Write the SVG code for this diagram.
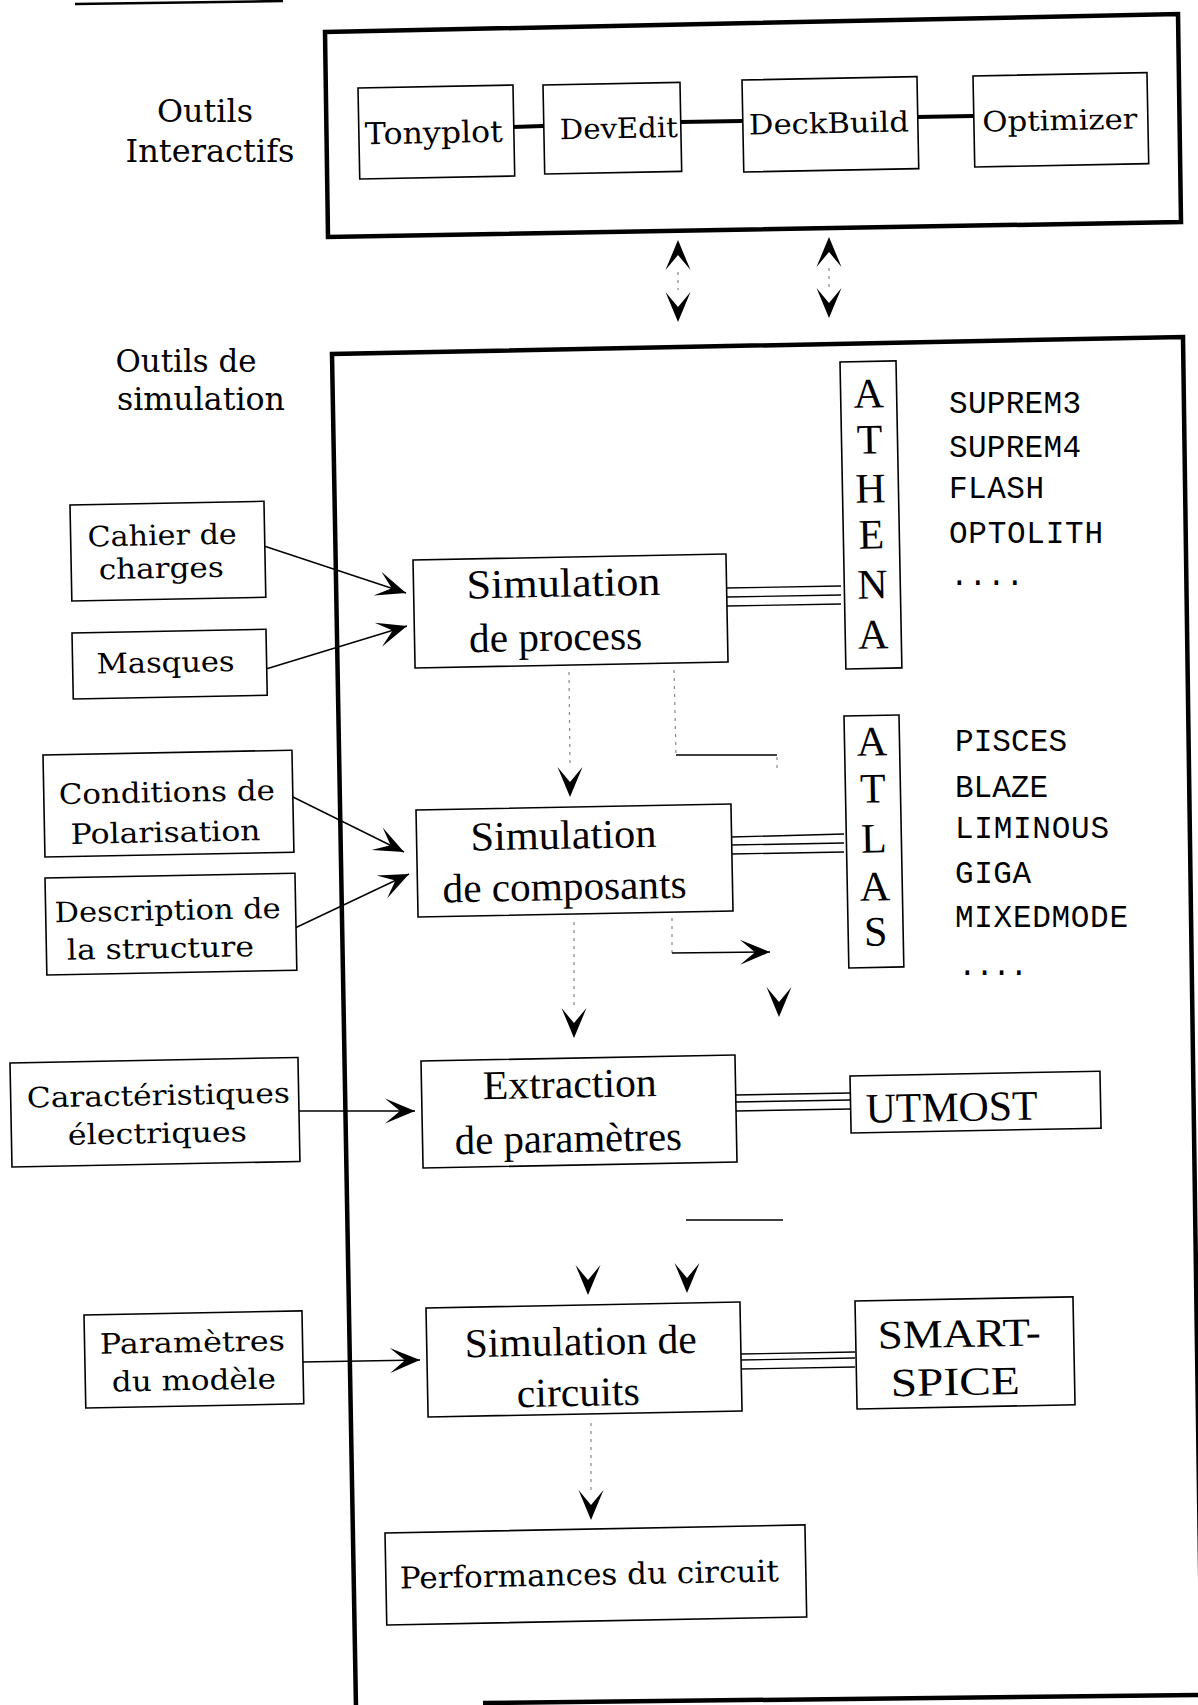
<svg xmlns="http://www.w3.org/2000/svg" xmlns:xlink="http://www.w3.org/1999/xlink" width="1198" height="1705" viewBox="0 0 1198 1705">
<defs>
<style>
.box{fill:#fff;stroke:#000;stroke-width:1.6}
.lbl{font-family:"DejaVu Serif","Liberation Serif",serif;font-size:28px;fill:#000;text-anchor:middle}
.sec{font-family:"DejaVu Serif","Liberation Serif",serif;font-size:32px;fill:#000;text-anchor:middle}
.big{font-family:"Liberation Serif","Times New Roman",serif;font-size:41px;fill:#000;text-anchor:middle}
.let{font-family:"Liberation Serif","Times New Roman",serif;font-size:42px;fill:#000;text-anchor:middle}
.mono{font-family:"Liberation Mono","Courier New",monospace;font-size:31px;fill:#000}
.frame{fill:none;stroke:#000;stroke-width:4.5;stroke-linejoin:miter}
.conn{fill:none;stroke:#000;stroke-width:1.4}
.thick{fill:none;stroke:#000;stroke-width:4}
.dot{fill:none;stroke:#888;stroke-width:1.2;stroke-dasharray:3 5}
.head{fill:#000}
</style>
<path id="ah" class="head" d="M0,0 L-30,-12.5 L-15,0 L-30,12.5 Z"/>
<marker id="arr" markerUnits="userSpaceOnUse" markerWidth="34" markerHeight="30" viewBox="-32 -15 34 30" refX="0" refY="0" orient="auto">
<path class="head" d="M0,0 L-30,-12.5 L-15,0 L-30,12.5 Z"/>
</marker>
</defs>
<rect width="1198" height="1705" fill="#fff"/>

<!-- frames -->
<g id="frames">
<line x1="75" y1="4" x2="283" y2="1" stroke="#000" stroke-width="2.5"/>
<polygon id="frame-interactifs" class="frame" points="325,32 1178,14 1181,222 328,237"/>
<path id="frame-simulation" class="frame" d="M356,1708 L332,354 L1183,337 L1202,1708"/>
<line x1="483" y1="1703" x2="1198" y2="1695" stroke="#000" stroke-width="4.5"/>
</g>

<!-- section labels -->
<g id="label-interactifs">
<text class="sec" x="205" y="122" textLength="96" lengthAdjust="spacingAndGlyphs">Outils</text>
<text class="sec" x="210" y="162" textLength="169" lengthAdjust="spacingAndGlyphs">Interactifs</text>
</g>
<g id="label-simulation">
<text class="sec" x="186" y="372" textLength="141" lengthAdjust="spacingAndGlyphs">Outils de</text>
<text class="sec" x="201" y="410" textLength="168" lengthAdjust="spacingAndGlyphs">simulation</text>
</g>

<!-- connectors -->
<g id="connectors">
<line class="thick" x1="513" y1="127" x2="543" y2="126"/>
<line class="thick" x1="680" y1="122" x2="742" y2="121"/>
<line class="thick" x1="917" y1="117" x2="973" y2="116"/>

<use href="#ah" transform="translate(678,240) rotate(-90)"/>
<line class="dot" x1="678" y1="272" x2="678" y2="290"/>
<use href="#ah" transform="translate(678,322) rotate(90)"/>
<use href="#ah" transform="translate(829,237) rotate(-90)"/>
<line class="dot" x1="829" y1="268" x2="829" y2="287"/>
<use href="#ah" transform="translate(829,318) rotate(90)"/>

<line class="conn" x1="264" y1="546" x2="406" y2="593" marker-end="url(#arr)"/>
<line class="conn" x1="266" y1="669" x2="407" y2="626" marker-end="url(#arr)"/>
<line class="conn" x1="293" y1="797" x2="404" y2="852" marker-end="url(#arr)"/>
<line class="conn" x1="295" y1="928" x2="409" y2="874" marker-end="url(#arr)"/>
<line class="conn" x1="298" y1="1111" x2="415" y2="1111" marker-end="url(#arr)"/>
<line class="conn" x1="302" y1="1362" x2="420" y2="1360" marker-end="url(#arr)"/>

<line class="dot" x1="569" y1="672" x2="570" y2="767"/>
<use href="#ah" transform="translate(570,797) rotate(90)"/>
<line class="dot" x1="674" y1="670" x2="676" y2="755"/>
<line class="conn" x1="676" y1="755" x2="777" y2="755"/>
<line class="dot" x1="777" y1="757" x2="777" y2="768"/>

<line class="dot" x1="574" y1="922" x2="574" y2="1005"/>
<use href="#ah" transform="translate(574,1038) rotate(90)"/>
<line class="dot" x1="672" y1="918" x2="672" y2="953"/>
<line class="conn" x1="672" y1="953" x2="770" y2="952" marker-end="url(#arr)"/>
<use href="#ah" transform="translate(779,1017) rotate(90)"/>

<line class="conn" x1="686" y1="1220" x2="783" y2="1220"/>
<use href="#ah" transform="translate(588,1295) rotate(90)"/>
<use href="#ah" transform="translate(687,1293) rotate(90)"/>

<line class="dot" x1="591" y1="1423" x2="591" y2="1492"/>
<use href="#ah" transform="translate(591,1520) rotate(90)"/>

<g class="conn" stroke-width="1.3">
<line x1="726" y1="588" x2="841" y2="586"/>
<line x1="726" y1="597" x2="841" y2="595"/>
<line x1="726" y1="606" x2="841" y2="604"/>
<line x1="731" y1="837" x2="844" y2="834"/>
<line x1="731" y1="845" x2="844" y2="843"/>
<line x1="731" y1="854" x2="844" y2="852"/>
<line x1="735" y1="1095" x2="851" y2="1093"/>
<line x1="735" y1="1102" x2="851" y2="1100"/>
<line x1="735" y1="1111" x2="851" y2="1109"/>
<line x1="740" y1="1354" x2="855" y2="1352"/>
<line x1="740" y1="1360" x2="855" y2="1358"/>
<line x1="740" y1="1369" x2="855" y2="1367"/>
</g>
</g>

<!-- top row nodes -->
<g id="tonyplot" transform="translate(358,88) rotate(-1.1)">
<rect class="box" x="0" y="0" width="155" height="91"/>
<text class="lbl" x="75" y="56.5" style="font-size:30px" textLength="138" lengthAdjust="spacingAndGlyphs">Tonyplot</text>
</g>
<g id="devedit" transform="translate(543,85) rotate(-1.1)">
<rect class="box" x="0" y="0" width="137" height="89"/>
<text class="lbl" x="75" y="54.5" textLength="118" lengthAdjust="spacingAndGlyphs">DevEdit</text>
</g>
<g id="deckbuild" transform="translate(742,80) rotate(-1.1)">
<rect class="box" x="0" y="0" width="175" height="92"/>
<text class="lbl" x="86" y="54.7" textLength="160" lengthAdjust="spacingAndGlyphs">DeckBuild</text>
</g>
<g id="optimizer" transform="translate(973,76) rotate(-1.1)">
<rect class="box" x="0" y="0" width="174" height="91"/>
<text class="lbl" x="86" y="55.7" textLength="155" lengthAdjust="spacingAndGlyphs">Optimizer</text>
</g>

<!-- inputs -->
<g id="cahier" transform="translate(70,505) rotate(-1.1)">
<rect class="box" x="0" y="0" width="194" height="96"/>
<text class="lbl" x="91.5" y="41.8" textLength="149" lengthAdjust="spacingAndGlyphs">Cahier de</text>
<text class="lbl" x="90" y="74.7" textLength="125" lengthAdjust="spacingAndGlyphs">charges</text>
</g>
<g id="masques" transform="translate(72,633) rotate(-1.1)">
<rect class="box" x="0" y="0" width="194" height="66"/>
<text class="lbl" x="93" y="41" textLength="138" lengthAdjust="spacingAndGlyphs">Masques</text>
</g>
<g id="conditions" transform="translate(43,755) rotate(-1.1)">
<rect class="box" x="0" y="0" width="249" height="102"/>
<text class="lbl" x="123" y="49.4" textLength="216" lengthAdjust="spacingAndGlyphs">Conditions de</text>
<text class="lbl" x="121" y="89.4" textLength="190" lengthAdjust="spacingAndGlyphs">Polarisation</text>
</g>
<g id="description" transform="translate(45,878) rotate(-1.1)">
<rect class="box" x="0" y="0" width="250" height="97"/>
<text class="lbl" x="122" y="44.4" textLength="226" lengthAdjust="spacingAndGlyphs">Description de</text>
<text class="lbl" x="114" y="82.2" textLength="187" lengthAdjust="spacingAndGlyphs">la structure</text>
</g>
<g id="caracteristiques" transform="translate(10,1063) rotate(-1.1)">
<rect class="box" x="0" y="0" width="288" height="104"/>
<text class="lbl" x="147.7" y="44.9" textLength="263" lengthAdjust="spacingAndGlyphs">Caractéristiques</text>
<text class="lbl" x="146" y="82.8" textLength="179" lengthAdjust="spacingAndGlyphs">électriques</text>
</g>
<g id="parametres" transform="translate(84,1315) rotate(-1.1)">
<rect class="box" x="0" y="0" width="218" height="93"/>
<text class="lbl" x="107.8" y="39.1" textLength="185" lengthAdjust="spacingAndGlyphs">Paramètres</text>
<text class="lbl" x="108.6" y="77.1" textLength="164" lengthAdjust="spacingAndGlyphs">du modèle</text>
</g>

<!-- main chain -->
<g id="sim-process" transform="translate(413,560) rotate(-1.1)">
<rect class="box" x="0" y="0" width="313" height="108"/>
<text class="big" x="150" y="39.5" textLength="194" lengthAdjust="spacingAndGlyphs">Simulation</text>
<text class="big" x="141" y="93.3" textLength="173" lengthAdjust="spacingAndGlyphs">de process</text>
</g>
<g id="sim-composants" transform="translate(416,810) rotate(-1.1)">
<rect class="box" x="0" y="0" width="315" height="107"/>
<text class="big" x="147" y="41.5" textLength="186" lengthAdjust="spacingAndGlyphs">Simulation</text>
<text class="big" x="147" y="92.9" textLength="244" lengthAdjust="spacingAndGlyphs">de composants</text>
</g>
<g id="extraction" transform="translate(421,1061) rotate(-1.1)">
<rect class="box" x="0" y="0" width="314" height="107"/>
<text class="big" x="148.3" y="39.5" textLength="174" lengthAdjust="spacingAndGlyphs">Extraction</text>
<text class="big" x="145.8" y="93.8" textLength="227" lengthAdjust="spacingAndGlyphs">de paramètres</text>
</g>
<g id="sim-circuits" transform="translate(426,1308) rotate(-1.1)">
<rect class="box" x="0" y="0" width="314" height="109"/>
<text class="big" x="154" y="50" textLength="232" lengthAdjust="spacingAndGlyphs">Simulation de</text>
<text class="big" x="150.6" y="100.9" textLength="123" lengthAdjust="spacingAndGlyphs">circuits</text>
</g>
<g id="performances" transform="translate(385,1533) rotate(-1.1)">
<rect class="box" x="0" y="0" width="420" height="92"/>
<text class="lbl" x="203.5" y="55.9" style="font-size:30px" textLength="379" lengthAdjust="spacingAndGlyphs">Performances du circuit</text>
</g>

<!-- tools -->
<g id="athena" transform="translate(840,362) rotate(-1.1)">
<rect class="box" x="0" y="0" width="56" height="307"/>
<text class="let" x="28" y="46">A</text>
<text class="let" x="28" y="92">T</text>
<text class="let" x="28" y="141">H</text>
<text class="let" x="28" y="187">E</text>
<text class="let" x="28" y="237">N</text>
<text class="let" x="28" y="287">A</text>
</g>
<g id="athena-list">
<text class="mono" x="949" y="413" textLength="132">SUPREM3</text>
<text class="mono" x="949" y="457" textLength="132">SUPREM4</text>
<text class="mono" x="949" y="498" textLength="95">FLASH</text>
<text class="mono" x="949" y="543" textLength="154">OPTOLITH</text>
<text class="mono" x="950" y="585" textLength="74">....</text>
</g>
<g id="atlas" transform="translate(844,716) rotate(-1.1)">
<rect class="box" x="0" y="0" width="55" height="252"/>
<text class="let" x="27.5" y="40">A</text>
<text class="let" x="27.5" y="87">T</text>
<text class="let" x="27.5" y="137">L</text>
<text class="let" x="27.5" y="185">A</text>
<text class="let" x="27.5" y="230">S</text>
</g>
<g id="atlas-list">
<text class="mono" x="955" y="751" textLength="112">PISCES</text>
<text class="mono" x="955" y="797" textLength="93">BLAZE</text>
<text class="mono" x="955" y="838" textLength="154">LIMINOUS</text>
<text class="mono" x="955" y="883" textLength="76">GIGA</text>
<text class="mono" x="955" y="927" textLength="173">MIXEDMODE</text>
<text class="mono" x="958" y="975" textLength="70">....</text>
</g>
<g id="utmost" transform="translate(850,1076) rotate(-1.1)">
<rect class="box" x="0" y="0" width="250" height="57"/>
<text class="big" x="15" y="47" style="font-size:42px;text-anchor:start" textLength="172" lengthAdjust="spacingAndGlyphs">UTMOST</text>
</g>
<g id="smartspice" transform="translate(855,1301) rotate(-1.1)">
<rect class="box" x="0" y="0" width="218" height="108"/>
<text class="big" x="103.6" y="48" style="font-size:40px" textLength="163" lengthAdjust="spacingAndGlyphs">SMART-</text>
<text class="big" x="98.7" y="96" style="font-size:40px" textLength="129" lengthAdjust="spacingAndGlyphs">SPICE</text>
</g>
</svg>
